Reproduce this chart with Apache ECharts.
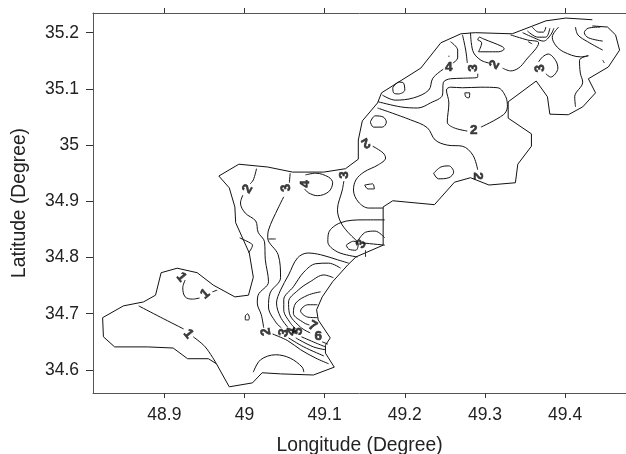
<!DOCTYPE html>
<html><head><meta charset="utf-8">
<style>html,body{margin:0;padding:0;background:#fff}#c{width:626px;height:454px}</style>
<script src="https://cdn.jsdelivr.net/npm/echarts@6/dist/echarts.min.js"></script>
</head><body><div id="c"></div>
<script>
const xTicks=[48.9,49,49.1,49.2,49.3,49.4];
const yTicks=[34.6,34.7,34.8,34.9,35,35.1,35.2];
const boundary=[[49.434,35.212],[49.453,35.210],[49.463,35.196],[49.468,35.169],[49.454,35.139],[49.429,35.118],[49.438,35.093],[49.422,35.068],[49.404,35.054],[49.381,35.055],[49.378,35.086],[49.364,35.114],[49.329,35.077],[49.329,35.048],[49.358,35.020],[49.358,34.998],[49.341,34.966],[49.338,34.933],[49.305,34.929],[49.282,34.942],[49.262,34.934],[49.237,34.894],[49.185,34.901],[49.173,34.890],[49.173,34.822],[49.139,34.801],[49.129,34.787],[49.110,34.757],[49.097,34.730],[49.090,34.707],[49.092,34.689],[49.107,34.657],[49.101,34.644],[49.101,34.630],[49.112,34.605],[49.086,34.591],[49.045,34.593],[49.022,34.595],[49.010,34.577],[48.981,34.570],[48.965,34.611],[48.955,34.620],[48.929,34.620],[48.911,34.639],[48.879,34.641],[48.838,34.641],[48.824,34.659],[48.823,34.693],[48.849,34.714],[48.874,34.721],[48.889,34.733],[48.896,34.773],[48.916,34.781],[48.941,34.773],[48.961,34.751],[48.988,34.730],[49.005,34.733],[49.011,34.765],[49.006,34.808],[48.989,34.862],[48.988,34.890],[48.981,34.924],[48.968,34.945],[48.993,34.966],[49.029,34.961],[49.060,34.952],[49.099,34.952],[49.126,34.958],[49.142,34.975],[49.142,35.009],[49.147,35.043],[49.166,35.075],[49.171,35.093],[49.220,35.137],[49.245,35.182],[49.270,35.198],[49.288,35.200],[49.334,35.198],[49.376,35.221],[49.401,35.226],[49.434,35.223]];
const lineA1=[[48.868,34.714],[48.895,34.694],[48.924,34.673]];
const lineA2=[[48.936,34.659],[48.951,34.641],[48.965,34.611]];
const lineB1=[[48.926,34.760],[48.923,34.746],[48.926,34.730],[48.935,34.726],[48.944,34.728]];
const lineB2=[[48.960,34.739],[48.966,34.742]];
const loopC=[[49.004,34.700],[49.006,34.694],[49.005,34.689],[49.001,34.689],[49.001,34.696],[49.004,34.700]];
const lineD1=[[49.015,34.958],[49.011,34.938],[49.007,34.931]];
const lineD2=[[48.998,34.911],[48.995,34.897],[49.001,34.879],[49.014,34.865],[49.017,34.845],[49.025,34.828],[49.026,34.796],[49.030,34.757],[49.017,34.733],[49.016,34.719],[49.021,34.698],[49.024,34.675]];
const lineD3=[[49.035,34.664],[49.054,34.652],[49.070,34.636],[49.089,34.621],[49.105,34.611]];
const lineE1=[[49.057,34.950],[49.056,34.933]];
const lineE2=[[49.049,34.908],[49.042,34.888],[49.030,34.849],[49.029,34.835],[49.042,34.805],[49.045,34.764],[49.032,34.737],[49.030,34.712],[49.039,34.685],[49.046,34.675]];
const lineE3=[[49.055,34.657],[49.074,34.641],[49.099,34.625]];
const lineE4=[[49.030,34.833],[49.039,34.833]];
const lineLeft=[[48.994,34.835],[49.007,34.826],[49.010,34.822],[49.005,34.808]];
const lineF1=[[49.130,34.790],[49.116,34.796],[49.095,34.805],[49.079,34.808],[49.066,34.799],[49.055,34.769],[49.045,34.742],[49.040,34.719],[49.045,34.694],[49.054,34.676]];
const lineF2=[[49.064,34.657],[49.086,34.641],[49.101,34.636]];
const lineG1=[[49.120,34.781],[49.105,34.790],[49.089,34.789],[49.074,34.774],[49.061,34.748],[49.049,34.725],[49.049,34.707],[49.057,34.684],[49.064,34.673]];
const lineG2=[[49.071,34.659],[49.089,34.648],[49.101,34.641]];
const lineH1=[[49.111,34.764],[49.099,34.769],[49.082,34.757],[49.067,34.742],[49.055,34.721],[49.056,34.701],[49.070,34.676],[49.082,34.666]];
const lineH2=[[49.097,34.650],[49.104,34.646]];
const lineI=[[49.095,34.739],[49.079,34.733],[49.064,34.719],[49.061,34.701],[49.074,34.684],[49.081,34.680]];
const lineJ=[[49.091,34.716],[49.079,34.716],[49.070,34.705],[49.079,34.694],[49.091,34.693]];
const lineK=[[49.074,34.596],[49.072,34.605],[49.057,34.621],[49.039,34.627],[49.020,34.618],[49.011,34.596]];
const lineL=[[49.076,34.947],[49.089,34.950],[49.105,34.943],[49.110,34.933],[49.105,34.917],[49.091,34.910],[49.080,34.915],[49.075,34.922]];
const lineM=[[49.124,34.936],[49.122,34.920],[49.116,34.885],[49.120,34.863],[49.129,34.845],[49.139,34.831],[49.142,34.826]];
const lineN=[[49.175,34.867],[49.149,34.867],[49.120,34.862],[49.105,34.844],[49.104,34.828],[49.116,34.810],[49.141,34.801]];
const loopO=[[49.127,34.822],[49.136,34.829],[49.142,34.824],[49.139,34.813],[49.130,34.815],[49.127,34.822]];
const lineO2=[[49.142,34.831],[49.151,34.845],[49.163,34.847],[49.175,34.835]];
const lineO3=[[49.147,34.826],[49.175,34.822]];
const lineO4=[[49.151,34.813],[49.151,34.801]];
const lineP=[[49.160,34.998],[49.173,34.986],[49.176,34.977],[49.167,34.965],[49.149,34.952],[49.139,34.938],[49.136,34.920],[49.142,34.899],[49.155,34.888],[49.173,34.888]];
const loopQ=[[49.150,34.929],[49.160,34.931],[49.162,34.922],[49.154,34.922],[49.150,34.929]];
const loopR=[[49.236,34.950],[49.245,34.961],[49.255,34.963],[49.261,34.952],[49.255,34.942],[49.242,34.940],[49.236,34.950]];
const loopS=[[49.157,35.041],[49.163,35.052],[49.173,35.050],[49.177,35.041],[49.172,35.032],[49.161,35.032],[49.157,35.041]];
const lineT=[[49.166,35.066],[49.207,35.045],[49.228,35.031],[49.238,35.009],[49.253,35.000],[49.272,34.998],[49.285,34.982],[49.291,34.956]];
const lineU1=[[49.278,35.025],[49.261,35.031],[49.253,35.041],[49.255,35.075],[49.252,35.098],[49.257,35.103],[49.272,35.102],[49.295,35.103],[49.316,35.102],[49.326,35.086],[49.328,35.068],[49.323,35.054],[49.295,35.032]];
const loopV=[[49.275,35.093],[49.281,35.093],[49.280,35.084],[49.276,35.086],[49.275,35.093]];
const lineW1=[[49.172,35.089],[49.188,35.080],[49.211,35.084],[49.230,35.098],[49.235,35.119],[49.248,35.135]];
const lineW1b=[[49.260,35.146],[49.266,35.155],[49.266,35.169],[49.257,35.184]];
const lineW2=[[49.167,35.077],[49.195,35.068],[49.216,35.066],[49.232,35.075],[49.247,35.089],[49.248,35.111],[49.257,35.118],[49.273,35.119],[49.291,35.121],[49.291,35.127]];
const lineW3=[[49.272,35.196],[49.276,35.169],[49.278,35.146]];
const loopX=[[49.185,35.102],[49.192,35.112],[49.198,35.111],[49.200,35.098],[49.192,35.091],[49.186,35.093],[49.185,35.102]];
const lineZ1=[[49.282,35.200],[49.283,35.182],[49.286,35.164],[49.295,35.151],[49.305,35.146]];
const lineZ2=[[49.322,35.137],[49.332,35.132],[49.342,35.137],[49.351,35.151],[49.367,35.182],[49.353,35.187],[49.332,35.196]];
const loopAA=[[49.291,35.187],[49.293,35.192],[49.298,35.189],[49.322,35.175],[49.324,35.171],[49.317,35.166],[49.292,35.166],[49.296,35.182],[49.291,35.187]];
const lineBB=[[49.354,35.184],[49.359,35.180]];
const lineCC=[[49.255,35.159],[49.255,35.157]];
const fanOuter=[[49.347,35.200],[49.361,35.191],[49.373,35.185],[49.382,35.196],[49.386,35.208]];
const fanMiddle=[[49.353,35.203],[49.366,35.192],[49.376,35.192],[49.381,35.208]];
const fanInner=[[49.359,35.210],[49.367,35.201],[49.373,35.201],[49.376,35.210]];
const lineDD=[[49.392,35.210],[49.384,35.192],[49.388,35.178],[49.398,35.166],[49.419,35.157],[49.429,35.159],[49.418,35.151],[49.419,35.128],[49.422,35.112],[49.412,35.086],[49.413,35.068]];
const lineEE=[[49.413,35.210],[49.416,35.196],[49.428,35.184],[49.447,35.169]];
const lineFF=[[49.444,35.210],[49.429,35.208],[49.424,35.200],[49.429,35.191],[49.447,35.185]];
const lineGG=[[49.447,35.151],[49.449,35.146]];
const lineHH=[[49.367,35.148],[49.372,35.157],[49.379,35.162],[49.388,35.151],[49.391,35.137],[49.382,35.121],[49.376,35.127]];
const labelTexts=['1','1','1','2','2','3','4','3','3','2','2','2','4','3','2','3','3','4','5','7','6'];
const labelPoints=[[48.930,34.664],[48.921,34.765],[48.951,34.735],[49.027,34.668],[49.004,34.922],[49.052,34.924],[49.076,34.931],[49.124,34.947],[49.146,34.824],[49.151,35.004],[49.286,35.027],[49.291,34.945],[49.255,35.139],[49.285,35.137],[49.312,35.143],[49.369,35.137],[49.049,34.666],[49.059,34.668],[49.067,34.669],[49.085,34.678],[49.092,34.660]];
const labelAngles=[-50,-50,40,100,60,100,90,90,60,-150,0,-90,0,90,60,100,75,75,75,-30,0];

const contours=[lineA1,lineA2,lineB1,lineB2,loopC,lineD1,lineD2,lineD3,lineE1,lineE2,lineE3,lineE4,lineLeft,lineF1,lineF2,lineG1,lineG2,lineH1,lineH2,lineI,lineJ,lineK,lineL,lineM,lineN,loopO,lineO2,lineO3,lineO4,lineP,loopQ,loopR,loopS,lineT,lineU1,loopV,lineW1,lineW1b,lineW2,lineW3,loopX,lineZ1,lineZ2,loopAA,lineBB,lineCC,fanOuter,fanMiddle,fanInner,lineDD,lineEE,lineFF,lineGG,lineHH];
const font='"Liberation Sans",Arial,sans-serif';
const lineSeries=(data,smooth)=>({type:'line',data,smooth,showSymbol:false,silent:true,animation:false,clip:false,lineStyle:{color:'#111',width:1}});
const xBase={type:'value',min:48.811,max:49.476,splitLine:{show:false},axisLine:{show:true,onZero:false,lineStyle:{color:'#555',width:1}},axisTick:{show:true,length:5,customValues:xTicks,lineStyle:{color:'#333'}}};
const chart=echarts.init(document.getElementById('c'),null,{renderer:'canvas'});
chart.setOption({
 animation:false,
 grid:{left:93,top:13,width:533,height:380,containLabel:false,outerBoundsMode:'none'},
 xAxis:[
  Object.assign({},xBase,{position:'bottom',name:'Longitude (Degree)',nameLocation:'middle',nameGap:43,nameTextStyle:{fontFamily:font,fontSize:19.3,color:'#222'},axisLabel:{show:true,customValues:xTicks,formatter:v=>String(+(+v).toFixed(1)),color:'#222',fontFamily:font,fontSize:17.5,margin:13,hideOverlap:false}}),
  Object.assign({},xBase,{position:'top',axisLabel:{show:false}})
 ],
 yAxis:{type:'value',min:34.559,max:35.235,splitLine:{show:false},
  axisLine:{show:true,onZero:false,lineStyle:{color:'#555',width:1}},
  axisTick:{show:true,length:7,customValues:yTicks,lineStyle:{color:'#333'}},
  axisLabel:{show:true,customValues:yTicks,formatter:v=>String(+(+v).toFixed(1)),color:'#222',fontFamily:font,fontSize:17.5,margin:14},
  name:'Latitude (Degree)',nameLocation:'middle',nameRotate:90,nameGap:64,nameTextStyle:{fontFamily:font,fontSize:19.3,color:'#222'}},
 series:[lineSeries(boundary,false)].concat(contours.map(c=>lineSeries(c,0.35))).concat([{
  type:'scatter',symbolSize:0,silent:true,animation:false,
  data:labelPoints.map((p,i)=>({value:[p[0],p[1],labelTexts[i]],label:{rotate:labelAngles[i]}})),
  label:{show:true,position:'inside',formatter:p=>p.value[2],fontFamily:font,fontWeight:'bold',fontSize:13.5,color:'#111',textBorderColor:'#111',textBorderWidth:0.6}
 }])
});
</script></body></html>
